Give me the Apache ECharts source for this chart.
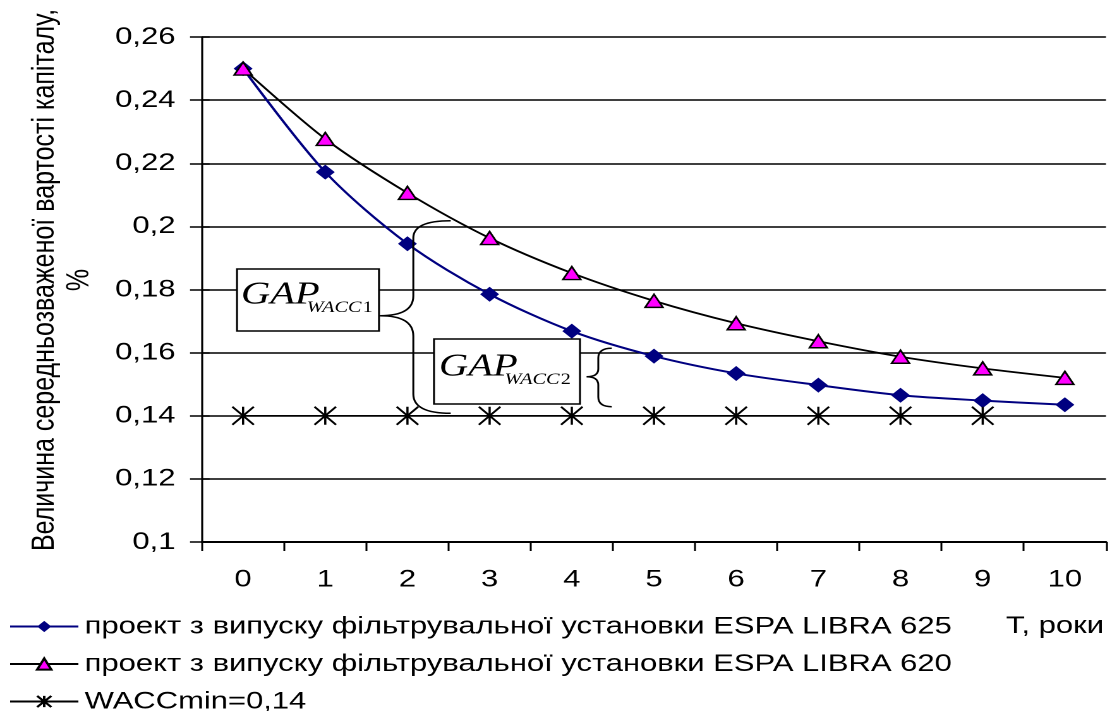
<!DOCTYPE html>
<html>
<head>
<meta charset="utf-8">
<script src="https://cdn.jsdelivr.net/npm/echarts@6/dist/echarts.min.js"></script>
<style>
  html, body { margin: 0; padding: 0; background: #fff; overflow: hidden; }
  /* the source picture is stretched sideways, so the chart is drawn narrow and widened */
  #main { width: 880px; height: 711px; transform: scaleX(1.2636); transform-origin: 0 0; }
</style>
</head>
<body>
<div id="main"></div>
<script>
(function() {
  'use strict';
  var echarts = window.echarts;

  // дані
  var years = ['0', '1', '2', '3', '4', '5', '6', '7', '8', '9', '10'];
  var libra625 = [0.25, 0.2172, 0.1945, 0.1785, 0.1668, 0.1589, 0.1534, 0.1497, 0.1465, 0.1448, 0.1435];
  var libra620 = [0.25, 0.2277, 0.2106, 0.1963, 0.1852, 0.1764, 0.1693, 0.1636, 0.1587, 0.155, 0.152];
  var waccMin = [0.14, 0.14, 0.14, 0.14, 0.14, 0.14, 0.14, 0.14, 0.14, 0.14, '-'];
  var names = [
    'проект з випуску фільтрувальної установки ESPA LIBRA 625',
    'проект з випуску фільтрувальної установки ESPA LIBRA 620',
    'WACCmin=0,14'
  ];
  var yMin = 0.1, yMax = 0.26, yStep = 0.02;

  var K = 1112 / 880;  // горизонтальне розтягнення
  var SANS = '"Liberation Sans", Arial, sans-serif';
  var SERIF = '"Liberation Serif", "Times New Roman", serif';

  function px(x) { return x / K; }

  // фігурні дужки (координати в пікселях вихідного малюнка)
  var brace1 = [
    ['q', 450.7, 220.7, 413.3, 220.7, 413.3, 238],
    ['l', 413.3, 238, 413.3, 296],
    ['q', 413.3, 296, 413.3, 315.7, 380, 315.7],
    ['q', 380, 315.7, 413.3, 315.7, 413.3, 336],
    ['l', 413.3, 336, 413.3, 394],
    ['q', 413.3, 394, 413.3, 413.3, 450.7, 413.3]
  ];
  var brace2 = [
    ['q', 611.7, 348.3, 598.3, 348.3, 598.3, 358],
    ['l', 598.3, 358, 598.3, 369],
    ['q', 598.3, 369, 598.3, 376.7, 586.7, 376.7],
    ['q', 586.7, 376.7, 598.3, 376.7, 598.3, 385],
    ['l', 598.3, 385, 598.3, 397],
    ['q', 598.3, 397, 598.3, 406.7, 611.7, 406.7]
  ];

  function braceParts(list) {
    var out = [];
    for (var i = 0; i < list.length; i++) {
      var s = list[i];
      var st = { stroke: '#000', lineWidth: 1.5, fill: null };
      if (s[0] === 'l') {
        out.push({ type: 'line', z: 20, silent: true,
          shape: { x1: px(s[1]), y1: s[2], x2: px(s[3]), y2: s[4] }, style: st });
      } else {
        out.push({ type: 'bezierCurve', z: 20, silent: true,
          shape: { x1: px(s[1]), y1: s[2], cpx1: px(s[3]), cpy1: s[4], x2: px(s[5]), y2: s[6] }, style: st });
      }
    }
    return out;
  }

  function gapBox(x0, y0, x1, y1, tx, ty, sub) {
    return [
      { type: 'rect', z: 20, silent: true,
        shape: { x: px(x0), y: y0, width: px(x1) - px(x0), height: y1 - y0 },
        style: { fill: '#fff', stroke: '#000', lineWidth: 1.5 } },
      { type: 'text', z: 21, silent: true, x: px(tx), y: ty,
        style: { text: 'GAP', font: 'italic 32px ' + SERIF, fill: '#000',
          align: 'left', verticalAlign: 'middle', textAlign: 'left', textVerticalAlign: 'middle' } },
      { type: 'text', z: 21, silent: true, x: px(tx) + 52, y: ty + 13,
        style: { text: '{i|WACC}{u|' + sub + '}', fill: '#000',
          align: 'left', verticalAlign: 'middle', textAlign: 'left', textVerticalAlign: 'middle',
          rich: {
            i: { fontFamily: SERIF, fontStyle: 'italic', fontSize: 16, color: '#000' },
            u: { fontFamily: SERIF, fontSize: 16, color: '#000', padding: [0, 0, 0, 1] }
          } } }
    ];
  }

  var graphics = [].concat(
    braceParts(brace1),
    braceParts(brace2),
    gapBox(237, 269, 379, 331, 241, 295, '1'),
    gapBox(434, 339, 580, 404, 439, 367, '2')
  );

  // підпис осі Y (повернутий)
  graphics.push({ type: 'text', silent: true, x: px(45), y: 280, rotation: Math.PI / 2,
    style: { text: 'Величина середньозваженої вартості капіталу,', font: '25px ' + SANS, fill: '#000',
      align: 'center', verticalAlign: 'middle', textAlign: 'center', textVerticalAlign: 'middle' } });
  graphics.push({ type: 'text', silent: true, x: px(80), y: 280, rotation: Math.PI / 2,
    style: { text: '%', font: '25px ' + SANS, fill: '#000',
      align: 'center', verticalAlign: 'middle', textAlign: 'center', textVerticalAlign: 'middle' } });
  // підпис осі X
  graphics.push({ type: 'text', silent: true, x: px(1104), y: 626,
    style: { text: 'T, роки', font: '24.5px ' + SANS, fill: '#000',
      align: 'right', verticalAlign: 'middle', textAlign: 'right', textVerticalAlign: 'middle' } });

  function fmt(v) {
    return String(Math.round(v * 100) / 100).replace('.', ',');
  }

  var myChart = echarts.init(document.getElementById('main'), null, { renderer: 'canvas', devicePixelRatio: 2 });

  var option = {
    animation: false,
    backgroundColor: '#fff',
    grid: { left: px(202), right: px(6), top: 37, bottom: 169, containLabel: false },
    legend: {
      orient: 'vertical',
      left: 7,
      top: 614,
      padding: 0,
      height: 120,
      itemWidth: 54,
      itemHeight: 14,
      itemGap: 12.5,
      selectedMode: false,
      textStyle: { fontFamily: SANS, fontSize: 24.5, color: '#000', lineHeight: 25 },
      data: names
    },
    xAxis: {
      type: 'category',
      data: years,
      boundaryGap: true,
      axisLine: { lineStyle: { color: '#000', width: 2 } },
      axisTick: { show: true, length: 9, lineStyle: { color: '#000', width: 1.5 } },
      axisLabel: { color: '#000', fontFamily: SANS, fontSize: 24.5, margin: 25 },
      splitLine: { show: false }
    },
    yAxis: [{
      type: 'value',
      min: yMin,
      max: yMax,
      interval: yStep,
      axisLine: { show: true, lineStyle: { color: '#000', width: 1.6 } },
      axisTick: { show: true, length: 9.5, lineStyle: { color: '#000', width: 1.5 } },
      axisLabel: { color: '#000', fontFamily: SANS, fontSize: 24.5, margin: 21, formatter: fmt },
      splitLine: { show: true, lineStyle: { color: '#000', width: 1.5 } }
    }, {
      // внутрішні половинки хрестоподібних рисок
      type: 'value',
      position: 'left',
      min: yMin,
      max: yMax,
      interval: yStep,
      axisLine: { show: false },
      axisTick: { show: true, inside: true, length: 6, lineStyle: { color: '#000', width: 1.5 } },
      axisLabel: { show: false },
      splitLine: { show: false }
    }],
    series: [{
      name: names[0],
      type: 'line',
      data: libra625,
      smooth: 0.3,
      symbol: 'diamond',
      symbolSize: 15,
      lineStyle: { color: '#000080', width: 2 },
      itemStyle: { color: '#000080' },
      z: 3
    }, {
      name: names[1],
      type: 'line',
      data: libra620,
      smooth: 0.3,
      symbol: 'triangle',
      symbolSize: [14, 13],
      lineStyle: { color: '#000', width: 1.8 },
      itemStyle: { color: '#ff00ff', borderColor: '#000', borderWidth: 1.5 },
      z: 4
    }, {
      name: names[2],
      type: 'line',
      data: waccMin,
      symbol: 'path://M0,0L10,10M10,0L0,10M5,0L5,10',
      symbolSize: [17, 18],
      lineStyle: { color: '#000', width: 1.5 },
      itemStyle: { color: '#000', borderColor: '#000', borderWidth: 1.8 },
      z: 3
    }],
    graphic: { elements: graphics }
  };

  myChart.setOption(option);
}());
</script>
</body>
</html>
